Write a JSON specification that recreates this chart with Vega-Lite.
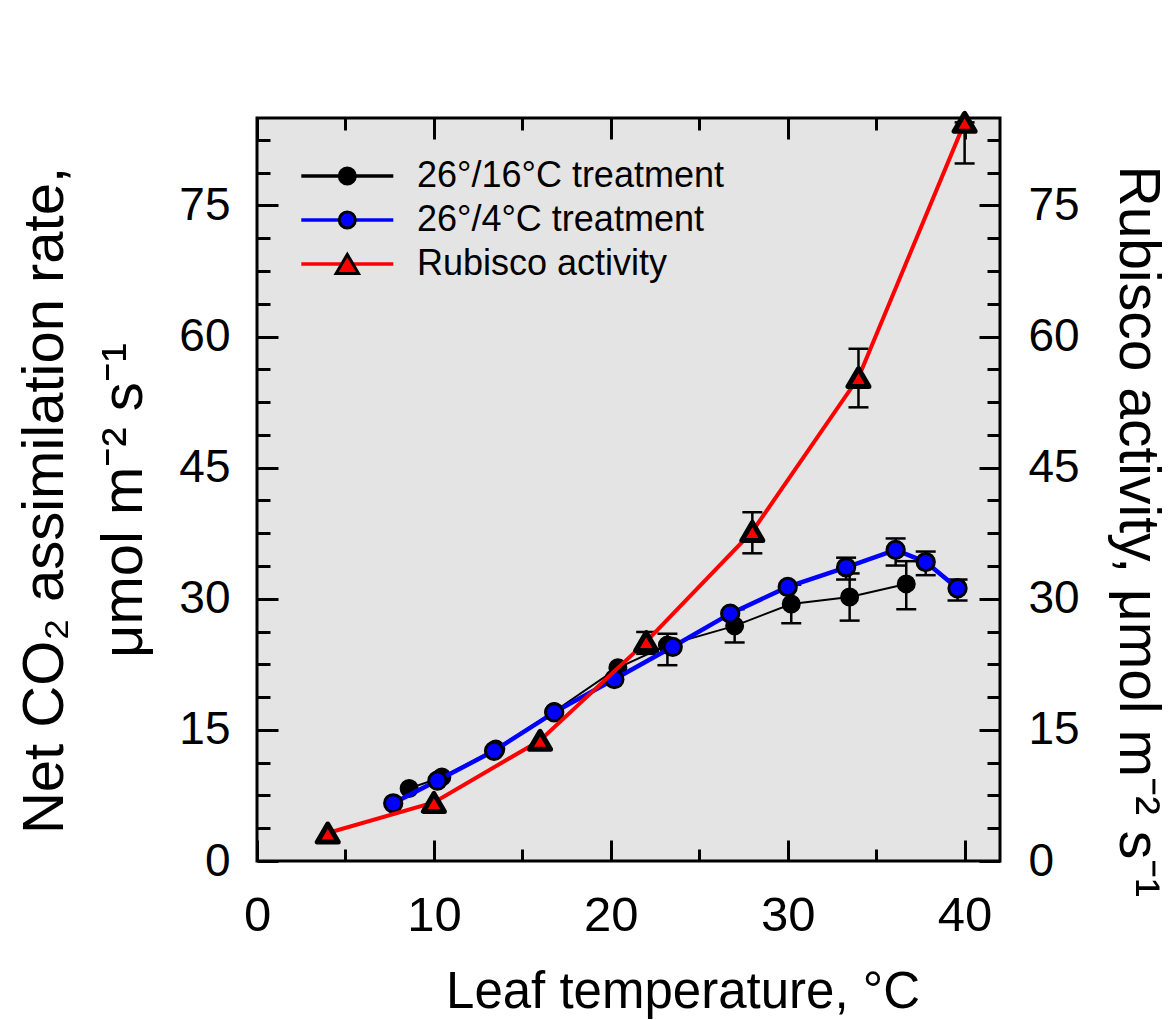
{
  "$schema": "https://vega.github.io/schema/vega-lite/v6.json",
  "width": 743,
  "height": 743,
  "autosize": {"type": "none"},
  "padding": {"left": 257, "top": 118, "right": 172, "bottom": 159},
  "background": "white",
  "config": {
    "view": {"stroke": "black", "strokeWidth": 3, "fill": "#e4e4e4"},
    "axis": {
      "domain": false, "grid": false, "tickColor": "black", "tickWidth": 3,
      "labelColor": "black", "labelFont": "Liberation Sans", "titleFont": "Liberation Sans",
      "titleColor": "black", "titleFontWeight": "normal", "labelOverlap": false,
      "labelFlush": false, "labelBound": false
    },
    "legend": {"labelFont": "Liberation Sans", "labelColor": "black"}
  },
  "datasets": {
    "all": [
      {"series": "26°/16°C treatment", "T": 8.6, "A": 8.3},
      {"series": "26°/16°C treatment", "T": 10.45, "A": 9.6},
      {"series": "26°/16°C treatment", "T": 13.5, "A": 12.8},
      {"series": "26°/16°C treatment", "T": 16.8, "A": 17.1},
      {"series": "26°/16°C treatment", "T": 20.4, "A": 22.1},
      {"series": "26°/16°C treatment", "T": 23.2, "A": 24.7, "lo": 22.4, "hi": 26.0},
      {"series": "26°/16°C treatment", "T": 27.0, "A": 26.9, "lo": 25.0, "hi": 28.8},
      {"series": "26°/16°C treatment", "T": 30.2, "A": 29.4, "lo": 27.2, "hi": 31.6},
      {"series": "26°/16°C treatment", "T": 33.5, "A": 30.2, "lo": 27.5, "hi": 32.9},
      {"series": "26°/16°C treatment", "T": 36.7, "A": 31.7, "lo": 28.8, "hi": 34.3},
      {"series": "26°/4°C treatment", "T": 7.7, "A": 6.6},
      {"series": "26°/4°C treatment", "T": 10.2, "A": 9.2},
      {"series": "26°/4°C treatment", "T": 13.4, "A": 12.6},
      {"series": "26°/4°C treatment", "T": 16.8, "A": 17.0},
      {"series": "26°/4°C treatment", "T": 20.2, "A": 20.8},
      {"series": "26°/4°C treatment", "T": 23.5, "A": 24.5},
      {"series": "26°/4°C treatment", "T": 26.75, "A": 28.3},
      {"series": "26°/4°C treatment", "T": 30.0, "A": 31.35},
      {"series": "26°/4°C treatment", "T": 33.3, "A": 33.6, "lo": 32.2, "hi": 34.7},
      {"series": "26°/4°C treatment", "T": 36.1, "A": 35.6, "lo": 33.8, "hi": 36.9},
      {"series": "26°/4°C treatment", "T": 37.8, "A": 34.2, "lo": 32.7, "hi": 35.4},
      {"series": "26°/4°C treatment", "T": 39.6, "A": 31.2, "lo": 29.8, "hi": 32.2},
      {"series": "Rubisco activity", "T": 4, "A": 3.2},
      {"series": "Rubisco activity", "T": 10, "A": 6.7},
      {"series": "Rubisco activity", "T": 16, "A": 13.8},
      {"series": "Rubisco activity", "T": 22, "A": 25.1, "lo": 23.7, "hi": 26.2},
      {"series": "Rubisco activity", "T": 28, "A": 37.7, "lo": 35.2, "hi": 39.9},
      {"series": "Rubisco activity", "T": 34, "A": 55.3, "lo": 51.9, "hi": 58.6},
      {"series": "Rubisco activity", "T": 40, "A": 84.5, "lo": 79.8, "hi": 84.5}
    ]
  },
  "resolve": {"axis": {"x": "independent", "y": "independent"}},
  "layer": [
    {
      "data": {"name": "all"},
      "transform": [{"filter": "isValid(datum.lo)"}],
      "mark": {"type": "errorbar", "color": "black", "opacity": 1, "ticks": {"size": 20, "thickness": 2.5, "color": "black", "opacity": 1}, "rule": {"strokeWidth": 2.5, "color": "black", "opacity": 1}},
      "encoding": {
        "x": {"field": "T", "type": "quantitative", "scale": {"domain": [0, 42], "nice": false, "zero": false}, "axis": null},
        "y": {"field": "lo", "type": "quantitative", "scale": {"domain": [0, 85], "nice": false}, "axis": null},
        "y2": {"field": "hi"}
      }
    },
    {
      "data": {"name": "all"},
      "transform": [{"filter": "datum.series === '26°/16°C treatment'"}],
      "mark": {"type": "line", "strokeWidth": 2},
      "encoding": {
        "x": {"field": "T", "type": "quantitative",
          "axis": {
            "orient": "bottom", "values": [0, 5, 10, 15, 20, 25, 30, 35, 40],
            "tickSize": {"condition": {"test": "datum.value % 10 === 0", "value": -21}, "value": -12},
            "labelExpr": "datum.value % 10 === 0 ? datum.label : ''",
            "labelFontSize": 49, "labelPadding": 51,
            "title": "Leaf temperature, °C", "titleFontSize": 51,
            "titleX": 425.5, "titleY": 146, "titleAlign": "center", "titleBaseline": "alphabetic"
          }
        },
        "y": {"field": "A", "type": "quantitative",
          "axis": {
            "orient": "left",
            "values": [0, 3.75, 7.5, 11.25, 15, 18.75, 22.5, 26.25, 30, 33.75, 37.5, 41.25, 45, 48.75, 52.5, 56.25, 60, 63.75, 67.5, 71.25, 75, 78.75, 82.5],
            "tickSize": {"condition": {"test": "datum.value % 15 === 0", "value": -21}, "value": -13},
            "labelExpr": "datum.value % 15 === 0 ? format(datum.value, 'd') : ''",
            "labelFontSize": 46, "labelPadding": 48,
            "title": ["Net CO₂ assimilation rate,", "μmol m⁻² s⁻¹"], "titleFontSize": 58,
            "titleAngle": 270, "titleAlign": "center", "titleBaseline": "alphabetic",
            "titleX": -195, "titleY": 382, "titleLineHeight": 79
          }
        },
        "stroke": {"field": "series", "type": "nominal",
          "scale": {"range": ["black", "#0000ff", "#ff0000"]},
          "legend": {
            "orient": "top-left", "offset": 40, "title": null, "padding": 0,
            "symbolType": "M-5.75,0L5.75,0", "symbolSize": 256, "symbolStrokeWidth": 3.5,
            "symbolOffset": 32.3, "labelOffset": 51.7, "labelFontSize": 36, "labelLimit": 500, "rowPadding": 8,
            "labelColor": "rgba(0,0,0,0)"
          }
        }
      }
    },
    {
      "data": {"name": "all"},
      "transform": [{"filter": "datum.series === '26°/16°C treatment'"}],
      "mark": {"type": "point", "filled": true, "size": 256, "opacity": 1, "stroke": "black", "strokeWidth": 3},
      "encoding": {
        "x": {"field": "T", "type": "quantitative", "axis": null},
        "y": {"field": "A", "type": "quantitative", "axis": null},
        "fill": {"field": "series", "type": "nominal",
          "scale": {"domain": ["26°/16°C treatment", "26°/4°C treatment", "Rubisco activity"], "range": ["black", "#0000ff", "#ff0000"]},
          "legend": {
            "orient": "none", "legendX": 40, "legendY": 40, "title": null, "padding": 0,
            "symbolSize": 256, "symbolStrokeWidth": 3, "symbolOpacity": 1,
            "symbolOffset": 32.3, "labelOffset": 51.7, "labelFontSize": 36, "labelLimit": 500, "rowPadding": 8
          }
        },
        "shape": {"field": "series", "type": "nominal",
          "scale": {"domain": ["26°/16°C treatment", "26°/4°C treatment", "Rubisco activity"], "range": ["circle", "circle", "M0,-1.2L-1.4,1.2L1.4,1.2Z"]},
          "legend": {
            "orient": "none", "legendX": 40, "legendY": 40, "title": null, "padding": 0,
            "symbolSize": 256, "symbolStrokeWidth": 3, "symbolOpacity": 1,
            "symbolOffset": 32.3, "labelOffset": 51.7, "labelFontSize": 36, "labelLimit": 500, "rowPadding": 8
          }
        }
      }
    },
    {
      "data": {"name": "all"},
      "transform": [{"filter": "datum.series === '26°/4°C treatment'"}],
      "mark": {"type": "line", "strokeWidth": 4.5},
      "encoding": {
        "x": {"field": "T", "type": "quantitative",
          "axis": {
            "orient": "top", "values": [0, 5, 10, 15, 20, 25, 30, 35, 40],
            "tickSize": {"condition": {"test": "datum.value % 10 === 0", "value": -21}, "value": -12},
            "labels": false, "title": null
          }
        },
        "y": {"field": "A", "type": "quantitative",
          "axis": {
            "orient": "right",
            "values": [0, 3.75, 7.5, 11.25, 15, 18.75, 22.5, 26.25, 30, 33.75, 37.5, 41.25, 45, 48.75, 52.5, 56.25, 60, 63.75, 67.5, 71.25, 75, 78.75, 82.5],
            "tickSize": {"condition": {"test": "datum.value % 15 === 0", "value": -21}, "value": -13},
            "labelExpr": "datum.value % 15 === 0 ? format(datum.value, 'd') : ''",
            "labelFontSize": 46, "labelPadding": 49,
            "title": "Rubisco activity, μmol m⁻² s⁻¹", "titleFontSize": 57,
            "titleAngle": 90, "titleAlign": "left", "titleBaseline": "alphabetic",
            "titleX": 119, "titleY": 47
          }
        },
        "stroke": {"field": "series", "type": "nominal", "legend": null}
      }
    },
    {
      "data": {"name": "all"},
      "transform": [{"filter": "datum.series === '26°/4°C treatment'"}],
      "mark": {"type": "point", "filled": true, "size": 300, "opacity": 1, "stroke": "black", "strokeWidth": 3},
      "encoding": {
        "x": {"field": "T", "type": "quantitative", "axis": null},
        "y": {"field": "A", "type": "quantitative", "axis": null},
        "fill": {"field": "series", "type": "nominal", "legend": null},
        "shape": {"field": "series", "type": "nominal", "legend": null}
      }
    },
    {
      "data": {"name": "all"},
      "transform": [{"filter": "datum.series === 'Rubisco activity'"}],
      "mark": {"type": "line", "strokeWidth": 4},
      "encoding": {
        "x": {"field": "T", "type": "quantitative", "axis": null},
        "y": {"field": "A", "type": "quantitative", "axis": null},
        "stroke": {"field": "series", "type": "nominal", "legend": null}
      }
    },
    {
      "data": {"name": "all"},
      "transform": [{"filter": "datum.series === 'Rubisco activity'"}],
      "mark": {"type": "point", "filled": true, "size": 225, "opacity": 1, "stroke": "black", "strokeWidth": 5, "strokeJoin": "round"},
      "encoding": {
        "x": {"field": "T", "type": "quantitative", "axis": null},
        "y": {"field": "A", "type": "quantitative", "axis": null},
        "fill": {"field": "series", "type": "nominal", "legend": null},
        "shape": {"field": "series", "type": "nominal", "legend": null}
      }
    }
  ]
}
